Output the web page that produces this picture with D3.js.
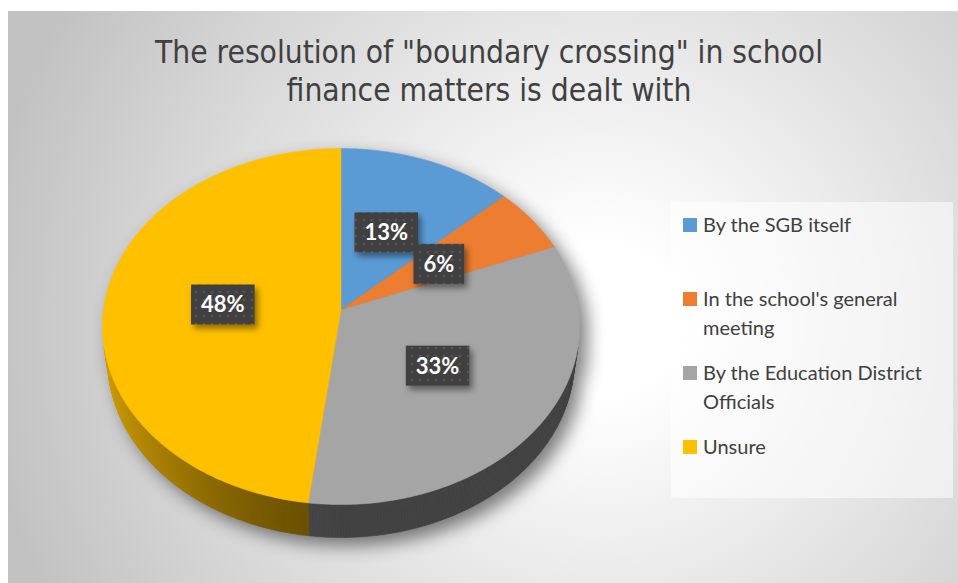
<!DOCTYPE html>
<html>
<head>
<meta charset="utf-8">
<script src="https://cdnjs.cloudflare.com/ajax/libs/d3/7.8.5/d3.min.js"></script>
<style>
  html, body { margin: 0; padding: 0; background: #ffffff; }
  svg { display: block; }
</style>
</head>
<body>
<svg id="chart" width="958" height="583"></svg>
<script>
// ---- data ----
const titleLines = ['The resolution of "boundary crossing" in school', 'finance matters is dealt with'];
const categories = ["By the SGB itself", "In the school's general meeting", "By the Education District Officials", "Unsure"];
const values = [13, 6, 33, 48];
const colors = ["#5b9bd5", "#ed7d31", "#a5a5a5", "#ffc000"];

const W = 958, H = 583;
const svg = d3.select("#chart");
const defs = svg.append("defs");

// ---- chart area background ----
const bg = defs.append("radialGradient").attr("id", "bgGrad")
  .attr("gradientUnits", "userSpaceOnUse")
  .attr("cx", 600).attr("cy", 320).attr("r", 620);
bg.append("stop").attr("offset", 0).attr("stop-color", "#ffffff");
bg.append("stop").attr("offset", 0.12).attr("stop-color", "#ffffff");
bg.append("stop").attr("offset", 1).attr("stop-color", "#c2c2c2");

svg.append("rect").attr("x", 8).attr("y", 11).attr("width", W - 8).attr("height", H - 11)
  .attr("fill", "url(#bgGrad)");

// ---- filters & patterns ----
const shadowF = defs.append("filter").attr("id", "pieShadow")
  .attr("x", "-20%").attr("y", "-20%").attr("width", "140%").attr("height", "140%");
shadowF.append("feGaussianBlur").attr("stdDeviation", 9);

const boxShadow = defs.append("filter").attr("id", "boxShadow")
  .attr("x", "-30%").attr("y", "-30%").attr("width", "160%").attr("height", "170%");
boxShadow.append("feDropShadow").attr("dx", 3).attr("dy", 4).attr("stdDeviation", 3)
  .attr("flood-color", "#000").attr("flood-opacity", 0.45);

const pat = defs.append("pattern").attr("id", "dots")
  .attr("patternUnits", "userSpaceOnUse").attr("width", 8).attr("height", 8);
pat.append("rect").attr("width", 8).attr("height", 8).attr("fill", "#404040");
pat.append("circle").attr("cx", 4).attr("cy", 4).attr("r", 1.3).attr("fill", "#565656");

// ---- title (a condensed face, squeezed to a common width factor) ----
const titleG = svg.append("g")
  .attr("fill", "#404040")
  .style("font-family", "'DejaVu Sans Condensed', 'Liberation Sans Narrow', sans-serif")
  .style("font-size", "32px");
const titleTexts = titleLines.map((t, i) =>
  titleG.append("text").attr("text-anchor", "middle").attr("x", 489).attr("y", 63 + i * 38).text(t));
const squeeze = 668 / titleTexts[0].node().getComputedTextLength();
titleTexts.forEach(t => {
  const w = t.node().getComputedTextLength() * squeeze;
  t.attr("textLength", w).attr("lengthAdjust", "spacingAndGlyphs");
});

// ---- 3D pie projection ----
const cx = 341, cy = 310;          // screen position of the pie centre
const elev = 48 * Math.PI / 180;   // viewing elevation
const camD = 7.2;                  // camera distance (in radii)
const thick = 0.22;                // pie thickness (in radii)
const radiusPx = d3.scaleLinear().domain([0, 1]).range([0, 237.5]);

function project(X, Y, Z) {
  const u = Y * Math.cos(elev) - Z * Math.sin(elev);
  const d = Y * Math.sin(elev) + Z * Math.cos(elev);
  const s = camD / (camD - d);
  return [cx + radiusPx(X * s), cy - radiusPx(u * s)];
}
// point on the rim at pie angle a (0 = 12 o'clock, clockwise), radius r, height y
const rimPoint = (a, r, y) => project(r * Math.sin(a), y, -r * Math.cos(a));

const pie = d3.pie().sort(null).value(d => d.value);
const arcs = pie(values.map((v, i) => ({ value: v, name: categories[i], color: colors[i] })));
const total = d3.sum(values);
const pct = d3.format(".0%");
const line = d3.line();

function arcPoints(a0, a1, y, r = 1) {
  const n = Math.max(4, Math.ceil((a1 - a0) / 0.01));
  return d3.range(n + 1).map(i => rimPoint(a0 + (a1 - a0) * i / n, r, y));
}

// soft ground shadow: silhouette of top and bottom discs
const pieG = svg.append("g");
const full = arcPoints(0, 2 * Math.PI, 0);
const fullBottom = arcPoints(0, 2 * Math.PI, -thick);
const shadowG = pieG.append("g").attr("filter", "url(#pieShadow)").attr("opacity", 0.5)
  .attr("transform", "translate(8,8)");
shadowG.append("path").attr("d", line(full) + "Z").attr("fill", "#000");
shadowG.append("path").attr("d", line(fullBottom) + "Z").attr("fill", "#000");
shadowG.append("rect").attr("x", cx - radiusPx(1)).attr("y", rimPoint(Math.PI * 1.5, 1, -thick)[1] - 40)
  .attr("width", radiusPx(2)).attr("height", 60).attr("fill", "#000");

// visible outer wall: faces towards the camera
const limit = Math.acos(-1 / (camD * Math.cos(elev)));   // first visible angle
const wallStart = limit, wallEnd = 2 * Math.PI - limit;
const shade = a => 0.40 + 0.42 * Math.pow(Math.max(0, -Math.sin(a)), 1.5);

const wallG = pieG.append("g");
arcs.forEach(s => {
  const a0 = Math.max(s.startAngle, wallStart), a1 = Math.min(s.endAngle, wallEnd);
  if (a1 <= a0) return;
  const n = Math.ceil((a1 - a0) / 0.012);
  const base = d3.rgb(s.data.color);
  for (let i = 0; i < n; i++) {
    const b0 = a0 + (a1 - a0) * i / n, b1 = a0 + (a1 - a0) * (i + 1) / n;
    const f = shade((b0 + b1) / 2);
    const c = d3.rgb(base.r * f, base.g * f, base.b * f).formatHex();
    const pts = [rimPoint(b0, 1, 0), rimPoint(b1, 1, 0), rimPoint(b1, 1, -thick), rimPoint(b0, 1, -thick)];
    wallG.append("path").attr("d", line(pts) + "Z").attr("fill", c).attr("stroke", c).attr("stroke-width", 0.6);
  }
});

// top faces
pieG.append("g").selectAll("path").data(arcs).join("path")
  .attr("d", s => line([project(0, 0, 0), ...arcPoints(s.startAngle, s.endAngle, 0)]) + "Z")
  .attr("fill", s => s.data.color)
  .attr("stroke", s => s.data.color).attr("stroke-width", 0.5);

// ---- data labels ----
const labelG = svg.append("g")
  .style("font-family", "Lato, 'Open Sans', sans-serif")
  .style("font-weight", "bold")
  .style("font-size", "22px");
arcs.forEach(s => {
  const mid = (s.startAngle + s.endAngle) / 2;
  const [lx, ly] = rimPoint(mid, 0.5, 0);
  const g = labelG.append("g");
  const t = g.append("text").attr("x", lx).attr("y", ly).attr("dy", "0.36em")
    .attr("text-anchor", "middle").attr("fill", "#ffffff")
    .text(pct(s.data.value / total));
  const w = t.node().getComputedTextLength() + 20;
  g.insert("rect", "text").attr("x", lx - w / 2).attr("y", ly - 20)
    .attr("width", w).attr("height", 40)
    .attr("fill", "url(#dots)").attr("filter", "url(#boxShadow)");
});

// ---- legend ----
const legG = svg.append("g");
legG.append("rect").attr("x", 671).attr("y", 202).attr("width", 282).attr("height", 296)
  .attr("fill", "#ffffff").attr("opacity", 0.55);
const legText = legG.append("g")
  .style("font-family", "Lato, 'Open Sans', sans-serif")
  .style("font-size", "20px").attr("fill", "#404040");
const maxW = 246;
categories.forEach((name, i) => {
  const y0 = 232 + i * 74;
  legG.append("rect").attr("x", 683).attr("y", y0 - 14).attr("width", 14).attr("height", 14)
    .attr("fill", colors[i]);
  const t = legText.append("text").attr("x", 703).attr("y", y0);
  // wrap words to the legend width
  const words = name.split(" ");
  let lineWords = [], ln = 0;
  let span = t.append("tspan").attr("x", 703).attr("y", y0);
  words.forEach(w => {
    lineWords.push(w);
    span.text(lineWords.join(" "));
    if (span.node().getComputedTextLength() > maxW && lineWords.length > 1) {
      lineWords.pop();
      span.text(lineWords.join(" "));
      lineWords = [w];
      ln += 1;
      span = t.append("tspan").attr("x", 703).attr("y", y0 + ln * 29).text(w);
    }
  });
});
</script>
</body>
</html>
